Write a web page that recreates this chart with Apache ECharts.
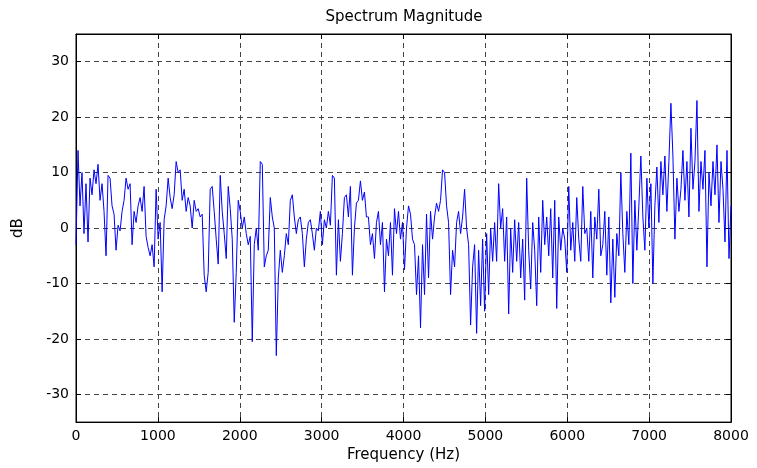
<!DOCTYPE html>
<html>
<head>
<meta charset="utf-8">
<script src="https://cdn.jsdelivr.net/npm/echarts@6/dist/echarts.min.js"></script>
<style>html,body{margin:0;padding:0;background:#fff}#c{width:757px;height:468px}</style>
</head>
<body>
<div id="c"></div>
<script>
// Spectrum magnitude in dB, evenly spaced from 0 Hz to 8000 Hz
const band0to1600 = [-3, 14, 4, 10, -1, 8, -2.5, 9, 6, 10.5, 8, 11.5, 5, 8, 3, -5, 9.5, 9, 4, 2.5, -4, 0.5, -0.5, 3, 5, 9, 7, 8, -3, 3, 1, 4, 5.5, 3, 7.5, -1.5, -3.5, -5, -3, -7, 7, -2, 1, -11.5, 1.5, 4, 9, 5.5, 3.5, 6, 12, 10, 10.5, 5, 7, 3, 5.5, 4, 0, 5, 3, 3.5, 2, 2.5, -8.5, -11.5];
const band1600to3200 = [-8, 7, 7.5, 3, -2, -6.5, 9.5, 3, -1, -5.5, 7.5, 3.5, -2, -17, -8, 5, 3, 0, 2, -1, -3, -1.5, -20.5, -3, 0, -4, 12, 11.5, -7, -5, -4, 5.5, 2, 0, -23, -9, -4, -8, -5, -1, -3, 5, 6, 2, -1, 1.5, 2, -1, -7, -2, 1, 1.5, -1, -4, 0, -0.5, 3, -3, 1.5, 0, 3, 0.5, 9.5, 9, -8.5, 1.5];
const band3200to4800 = [-6, -1, 5.5, 6, 2, 7.5, -8.5, 0, 4.5, 5, 8.5, 5, 6.5, 2, 2, -3, -1, -5.5, 1, 3, -3, 1, -11.5, -2, -5, 1, -8.5, 3.5, -1, 3, -2, 1, -7.5, 0, 4, 2.5, -2, -3, -12, -5, -18, -3, -12, 2.5, -9, 3, -2, 2, 4.5, 3, 5, 10.5, 10, 4, 1, -12, -4, -7, 1, 3, -1, 2, 7, 0, -3, -17.5];
const band4800to6400 = [-7, -3, -19, -4, -14, -2, -15, -1, -12, 0, -6, 1, -6, 8, 0, 3.5, -6, 2, -15.5, 0, -8, 1.5, -6, 1, -9, -2, -13, 9, -4, -11, 1, -4, -14, 2, -8, 5, -3, 2, -5, 3.5, -9, 5, -14.5, 2, -4, 0, -2, -8, 7.5, -4, 1, -6, 5.5, -2, -6, 7.5, -1, 0, -6, 3, -9, 2, -2, 7, -5];
const band6400to8000 = [-3, 3, -8.5, 2, -13.5, -2, -12.5, -1, -5, 10, -1, -8, 3, -3, 13.5, -10, 5, -4, 4, 13, 2, -4, 9, 0, 8, -10, 4, 11, 1, 12, 6, 13, 3, 12, 22.5, 13, -2, 9, 3, 7, 14, 5, 12, 2, 18, 7, 12, 23, 3, 12, 7, 14, -7, 10, 4, 12, 6, 15, 1, 12, 7, -2.5, 14, -5.5, 4];

const magnitudeDb = [].concat(band0to1600, band1600to3200, band3200to4800, band4800to6400, band6400to8000);
const fMax = 8000;
const binStep = fMax / (magnitudeDb.length - 1);
const points = magnitudeDb.map((v, i) => [i * binStep, v]);

const xTicks = [0, 1000, 2000, 3000, 4000, 5000, 6000, 7000, 8000];
const yTicks = [-30, -20, -10, 0, 10, 20, 30];

const FONT = 'DejaVu Sans';
const gridDash = {color: '#444', width: 1, type: [5, 4]};

const chart = echarts.init(document.getElementById('c'), null, {renderer: 'canvas'});
chart.setOption({
  animation: false,
  backgroundColor: '#fff',
  grid: {left: 76, right: 26, top: 34, bottom: 45, show: true, borderColor: '#000', borderWidth: 1, backgroundColor: 'transparent'},
  graphic: [{
    type: 'text', x: 404, y: 17,
    style: {text: 'Spectrum Magnitude', align: 'center', verticalAlign: 'middle', fontFamily: FONT, fontSize: 15, fill: '#000'}
  }],
  xAxis: [{
    type: 'value', min: xTicks[0], max: xTicks[xTicks.length - 1], interval: 1000,
    name: 'Frequency (Hz)', nameLocation: 'middle', nameGap: 22,
    nameTextStyle: {fontFamily: FONT, fontSize: 15, color: '#000'},
    axisLine: {show: true, onZero: false, lineStyle: {color: '#000', width: 1}},
    axisTick: {show: true, inside: true, length: 5, lineStyle: {color: '#000'}},
    axisLabel: {fontFamily: FONT, fontSize: 14, color: '#000', margin: 7,
      formatter: v => (xTicks.indexOf(v) >= 0 ? String(v) : '')},
    splitLine: {show: true, lineStyle: gridDash}
  }, {
    type: 'value', position: 'top', min: xTicks[0], max: xTicks[xTicks.length - 1], interval: 1000,
    axisLine: {show: true, onZero: false, lineStyle: {color: '#000'}},
    axisTick: {show: true, inside: true, length: 5, lineStyle: {color: '#000'}},
    axisLabel: {show: false}, splitLine: {show: false}
  }],
  yAxis: [{
    type: 'value', min: -35, max: 35, splitNumber: 7,
    name: 'dB', nameLocation: 'middle', nameGap: 50, nameRotate: 90,
    nameTextStyle: {fontFamily: FONT, fontSize: 15, color: '#000'},
    axisLine: {show: true, onZero: false, lineStyle: {color: '#000', width: 1}},
    axisTick: {show: true, inside: true, length: 5, lineStyle: {color: '#000'}},
    axisLabel: {fontFamily: FONT, fontSize: 14, color: '#000', margin: 7,
      formatter: v => (yTicks.indexOf(v) >= 0 ? String(v) : '')},
    splitLine: {show: true, lineStyle: gridDash}
  }, {
    type: 'value', position: 'right', min: -35, max: 35, splitNumber: 7,
    axisLine: {show: true, onZero: false, lineStyle: {color: '#000'}},
    axisTick: {show: true, inside: true, length: 5, lineStyle: {color: '#000'}},
    axisLabel: {show: false}, splitLine: {show: false}
  }],
  series: [{
    type: 'line', xAxisIndex: 0, yAxisIndex: 0,
    data: points, showSymbol: false, symbol: 'none',
    lineStyle: {color: '#0000ff', width: 1}, itemStyle: {color: '#0000ff'},
    silent: true
  }]
});
</script>
</body>
</html>
